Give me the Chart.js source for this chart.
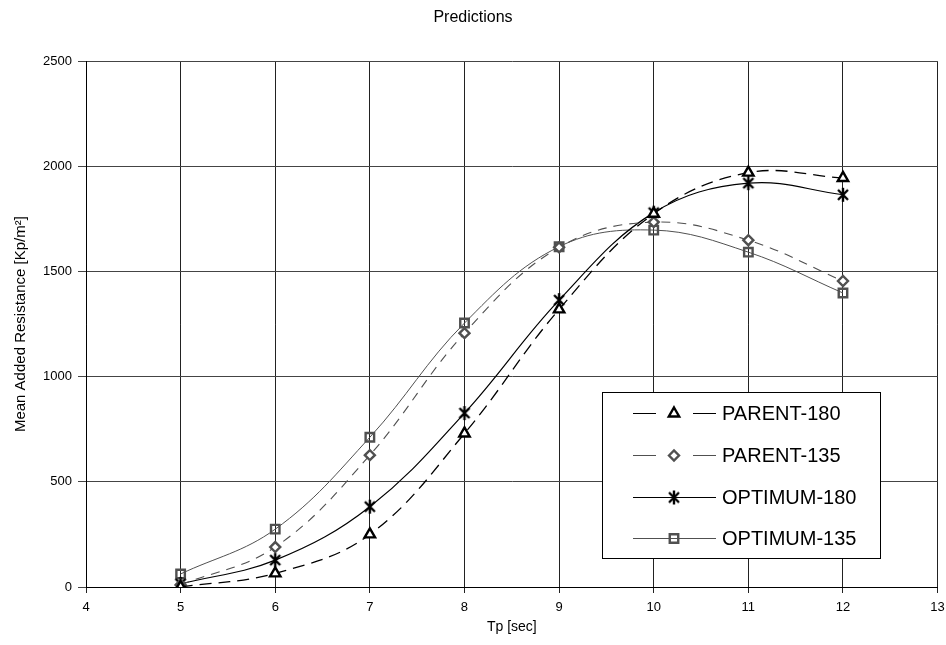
<!DOCTYPE html>
<html>
<head>
<meta charset="utf-8">
<script src="https://cdn.jsdelivr.net/npm/chart.js@4/dist/chart.umd.min.js"></script>
<style>
  html, body { margin: 0; padding: 0; background: #fff; }
  #wrap { width: 946px; height: 645px; }
</style>
</head>
<body>
<div id="wrap"><canvas id="predChart" width="946" height="645"></canvas></div>
<script>
// Wave period values and the four resistance series
const tp = [5, 6, 7, 8, 9, 10, 11, 12];
const parent180 = [0, 65, 250, 730, 1320, 1775, 1970, 1945];
const parent135 = [10, 190, 627, 1207, 1615, 1735, 1649, 1455];
const optimum180 = [15, 128, 382, 827, 1364, 1780, 1920, 1865];
const optimum135 = [62, 275, 712, 1255, 1618, 1697, 1592, 1398];

const seriesNames = ['PARENT-180', 'PARENT-135', 'OPTIMUM-180', 'OPTIMUM-135'];
const xTicks = [4, 5, 6, 7, 8, 9, 10, 11, 12, 13];
const yTicks = [0, 500, 1000, 1500, 2000, 2500];

const FONT = "'Liberation Sans', Arial, sans-serif";
const GREY = '#505050';

// asterisk marker: an X with a vertical stroke through it
function makeStar() {
    const c = document.createElement('canvas');
    c.width = 14; c.height = 16;
    const g = c.getContext('2d');
    g.strokeStyle = '#000';
    g.lineWidth = 2.4;
    g.beginPath();
    g.moveTo(2, 3); g.lineTo(12, 13);
    g.moveTo(12, 3); g.lineTo(2, 13);
    g.moveTo(7, 1); g.lineTo(7, 15);
    g.stroke();
    return c;
}
const starMark = makeStar();

function toPoints(ys) {
    return tp.map((x, i) => ({ x: x, y: ys[i] }));
}

const datasets = [
    {
        label: seriesNames[0],
        data: toPoints(parent180),
        borderColor: '#000',
        borderWidth: 1.3,
        borderDash: [12, 7],
        pointStyle: 'triangle',
        pointRadius: 6,
        pointBorderWidth: 2.4,
        pointBorderColor: '#000',
        pointBackgroundColor: '#fff'
    },
    {
        label: seriesNames[1],
        data: toPoints(parent135),
        borderColor: GREY,
        borderWidth: 1.1,
        borderDash: [9, 7],
        pointStyle: 'rectRot',
        pointRadius: 5,
        pointBorderWidth: 2.4,
        pointBorderColor: GREY,
        pointBackgroundColor: '#fff'
    },
    {
        label: seriesNames[2],
        data: toPoints(optimum180),
        borderColor: '#000',
        borderWidth: 1.2,
        pointStyle: starMark,
        pointRadius: 7
    },
    {
        label: seriesNames[3],
        data: toPoints(optimum135),
        borderColor: GREY,
        borderWidth: 1,
        pointStyle: 'rect',
        pointRadius: 6,
        pointBorderWidth: 2.4,
        pointBorderColor: GREY,
        pointBackgroundColor: 'rgba(255,255,255,0)'
    }
];

// boxed legend sitting inside the plot, each entry with its line sample and marker
const boxLegend = {
    id: 'boxLegend',
    afterDatasetsDraw(chart) {
        const ctx = chart.ctx;
        const bx = 602.5, by = 392.5, bw = 278, bh = 166;
        ctx.save();
        ctx.fillStyle = '#fff';
        ctx.fillRect(bx, by, bw, bh);
        ctx.strokeStyle = '#000';
        ctx.lineWidth = 1;
        ctx.strokeRect(bx, by, bw, bh);

        const rows = [413, 455, 497, 538];
        chart.data.datasets.forEach((ds, i) => {
            const y = rows[i] + 0.5;
            ctx.strokeStyle = ds.borderColor;
            ctx.lineWidth = 1.2;
            ctx.setLineDash([]);
            ctx.beginPath();
            if (ds.borderDash) {
                ctx.moveTo(633, y); ctx.lineTo(656, y);
                ctx.moveTo(693, y); ctx.lineTo(716, y);
            } else {
                ctx.moveTo(633, y); ctx.lineTo(716, y);
            }
            ctx.stroke();

            if (ds.pointStyle instanceof HTMLCanvasElement) {
                ctx.drawImage(ds.pointStyle, 674 - ds.pointStyle.width / 2, y - ds.pointStyle.height / 2);
            } else {
                ctx.fillStyle = ds.pointBackgroundColor;
                ctx.strokeStyle = ds.pointBorderColor;
                ctx.lineWidth = ds.pointBorderWidth;
                Chart.helpers.drawPoint(ctx, {
                    pointStyle: ds.pointStyle,
                    radius: ds.pointRadius,
                    borderWidth: ds.pointBorderWidth,
                    rotation: 0
                }, 674, y);
            }

            ctx.fillStyle = '#000';
            ctx.font = '20px ' + FONT;
            ctx.textBaseline = 'middle';
            ctx.textAlign = 'left';
            ctx.fillText(ds.label, 722, y + 1);
        });
        ctx.restore();
    }
};

const plain = v => String(v);

const ctx = document.getElementById('predChart').getContext('2d');
new Chart(ctx, {
    type: 'line',
    data: { datasets: datasets },
    plugins: [boxLegend],
    options: {
        responsive: false,
        animation: false,
        devicePixelRatio: 1,
        layout: { padding: { left: 8, right: 8, top: 0, bottom: 5 } },
        elements: {
            line: { tension: 0.38, fill: false }
        },
        scales: {
            x: {
                type: 'linear',
                min: 4,
                max: 13,
                afterBuildTicks: s => { s.ticks = xTicks.map(v => ({ value: v })); },
                afterFit: s => { s.height = 53; s.paddingLeft = 0; s.paddingRight = 0; },
                grid: { color: '#222', lineWidth: 1, tickLength: 6 },
                border: { color: '#000', width: 1 },
                ticks: { color: '#000', font: { family: FONT, size: 13 }, padding: 7, maxRotation: 0, callback: plain },
                title: {
                    display: true,
                    text: 'Tp [sec]',
                    color: '#000',
                    font: { family: FONT, size: 14 },
                    padding: { top: 0, bottom: 4 }
                }
            },
            y: {
                min: 0,
                max: 2500,
                afterBuildTicks: s => { s.ticks = yTicks.map(v => ({ value: v })); },
                afterFit: s => { s.width = 78; s.paddingTop = 0; s.paddingBottom = 0; },
                grid: { color: '#444', lineWidth: 1, tickLength: 8 },
                border: { color: '#000', width: 1 },
                ticks: { color: '#000', font: { family: FONT, size: 13 }, padding: 6, callback: plain },
                title: {
                    display: true,
                    text: 'Mean Added Resistance [Kp/m²]',
                    color: '#000',
                    font: { family: FONT, size: 15 },
                    padding: { top: 4, bottom: 0 }
                }
            }
        },
        plugins: {
            legend: { display: false },
            tooltip: { enabled: false },
            title: {
                display: true,
                text: 'Predictions',
                color: '#000',
                font: { family: FONT, size: 16, weight: 'normal' },
                padding: { top: 8, bottom: 34 }
            }
        }
    }
});
</script>
</body>
</html>
